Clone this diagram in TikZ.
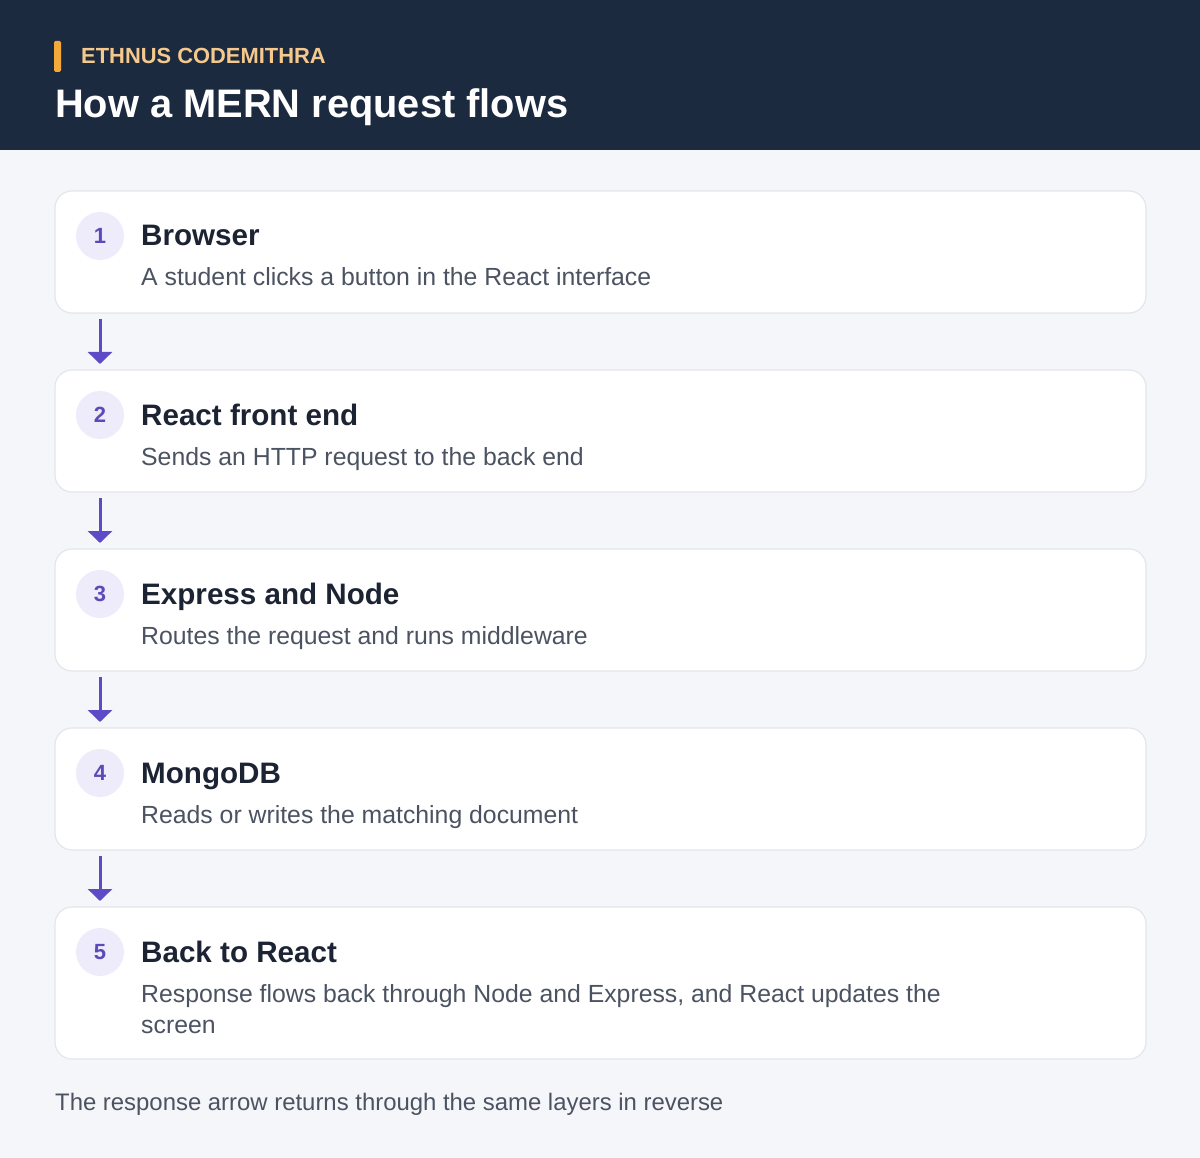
\documentclass[tikz,border=0pt]{standalone}
\usepackage{fontspec}
\setmainfont{Liberation Sans}
\usetikzlibrary{arrows.meta}
\definecolor{navy}{HTML}{1B2A3E}
\definecolor{pagebg}{HTML}{F4F6FA}
\definecolor{cardborder}{HTML}{E3E6EC}
\definecolor{badgebg}{HTML}{EEEBFB}
\definecolor{badgefg}{HTML}{5A4BB8}
\definecolor{arrowc}{HTML}{5B4BC6}
\definecolor{titlec}{HTML}{1C2434}
\definecolor{subc}{HTML}{4B5261}
\definecolor{orangebar}{HTML}{F4A93B}
\definecolor{brandc}{HTML}{F5C98E}
\tikzset{
  card/.style={draw=cardborder, line width=1.2pt, fill=white, rounded corners=17pt, anchor=north west, minimum width=1091pt, inner sep=0pt, outer sep=0pt},
  badge/.style={circle, fill=badgebg, minimum size=48pt, inner sep=0pt, text=badgefg, font=\fontsize{22}{24}\selectfont\bfseries},
  ctitle/.style={anchor=base west, inner sep=0pt, text=titlec, font=\fontsize{29.6}{34}\selectfont\bfseries},
  csub/.style={anchor=base west, inner sep=0pt, text=subc, font=\fontsize{24.8}{31}\selectfont, align=left},
  flowarrow/.style={draw=arrowc, line width=3pt, -{Triangle[width=24pt,length=12pt]}}
}
\begin{document}
\begin{tikzpicture}[x=1pt,y=-1pt]
\useasboundingbox (0,0) rectangle (1200,1158);
\fill[pagebg] (0,0) rectangle (1200,1158);
\fill[navy] (0,0) rectangle (1200,150);
\fill[orangebar, rounded corners=1.5pt] (54,41) rectangle (61,72);
\node[anchor=base west, inner sep=0pt, text=brandc, font=\fontsize{21.9}{24}\selectfont\bfseries] (brand) at (81,64) {ETHNUS CODEMITHRA};
\node[anchor=base west, inner sep=0pt, text=white, font=\fontsize{39.8}{44}\selectfont\bfseries] (head) at (55,118) {How a MERN request flows};
% cards
\node[card, minimum height=122pt] (c1) at (55,191) {};
\node[card, minimum height=122pt] (c2) at (55,370) {};
\node[card, minimum height=122pt] (c3) at (55,549) {};
\node[card, minimum height=122pt] (c4) at (55,728) {};
\node[card, minimum height=152pt] (c5) at (55,907) {};
% badges
\node[badge] (b1) at (100,236) {1};
\node[badge] (b2) at (100,415) {2};
\node[badge] (b3) at (100,594) {3};
\node[badge] (b4) at (100,773) {4};
\node[badge] (b5) at (100,952) {5};
% titles
\node[ctitle] (t1) at (141,246) {Browser};
\node[ctitle] (t2) at (141,425) {React front end};
\node[ctitle] (t3) at (141,604) {Express and Node};
\node[ctitle] (t4) at (141,783) {MongoDB};
\node[ctitle] (t5) at (141,962) {Back to React};
% subtitles
\node[csub] (s1) at (141,286) {A student clicks a button in the React interface};
\node[csub] (s2) at (141,465) {Sends an HTTP request to the back end};
\node[csub] (s3) at (141,644) {Routes the request and runs middleware};
\node[csub] (s4) at (141,823) {Reads or writes the matching document};
\node[csub] (s5) at (141,1033) {Response flows back through Node and Express, and React updates the\\screen};
% arrows
\draw[flowarrow] ([xshift=45pt,yshift=-6pt]c1.south west) -- ([xshift=45pt,yshift=6pt]c2.north west);
\draw[flowarrow] ([xshift=45pt,yshift=-6pt]c2.south west) -- ([xshift=45pt,yshift=6pt]c3.north west);
\draw[flowarrow] ([xshift=45pt,yshift=-6pt]c3.south west) -- ([xshift=45pt,yshift=6pt]c4.north west);
\draw[flowarrow] ([xshift=45pt,yshift=-6pt]c4.south west) -- ([xshift=45pt,yshift=6pt]c5.north west);
% footer
\node[anchor=base west, inner sep=0pt, text=subc, font=\fontsize{23.9}{31}\selectfont] (foot) at (55,1110) {The response arrow returns through the same layers in reverse};
\end{tikzpicture}
\end{document}
